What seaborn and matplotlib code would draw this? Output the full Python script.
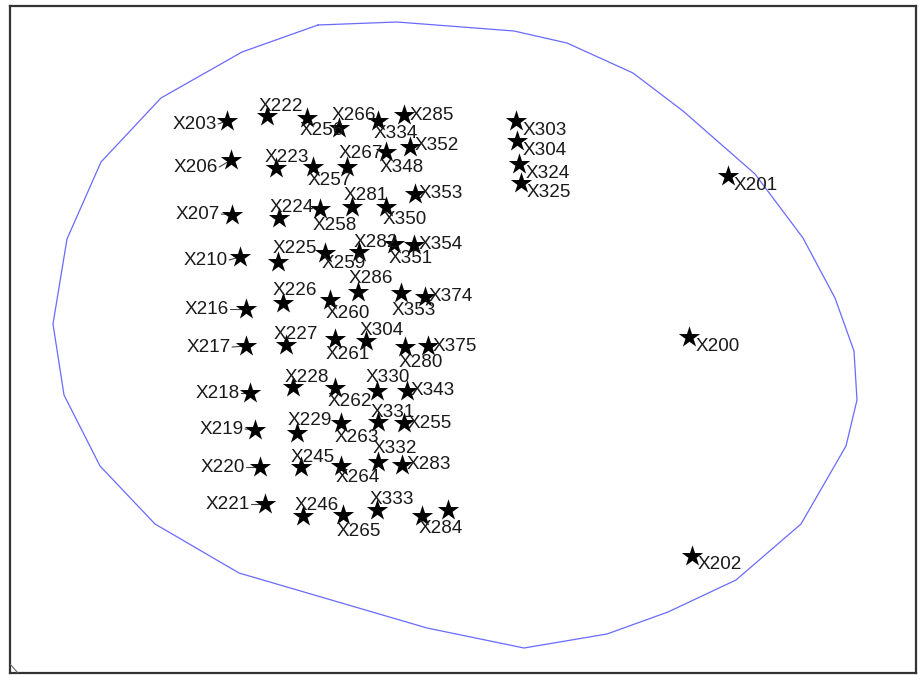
import matplotlib
matplotlib.use("Agg")
import matplotlib.pyplot as plt
import seaborn as sns
import pandas as pd

# ---- data (plot coordinates, y grows downward) ----
hull_x = [318, 397, 514, 567, 633, 683, 755, 803, 835, 854, 857, 846, 801, 736, 668, 607, 524, 427, 239, 155, 100, 64, 53, 67, 101, 161, 242]
hull_y = [25, 22, 31, 43, 73, 111, 174, 238, 298, 351, 400, 446, 524, 580, 612, 634, 648, 628, 573, 524, 466, 395, 324, 239, 162, 98, 52]

point_ids = ["X203", "X222", "X256", "X266", "X334", "X285",
             "X206", "X223", "X257", "X348", "X267", "X352",
             "X207", "X224", "X258", "X281", "X350", "X353a",
             "X210", "X225", "X259", "X282", "X351", "X354",
             "X216", "X226", "X260", "X286", "X353b", "X374",
             "X217", "X227", "X261", "X304a", "X280", "X375",
             "X218", "X228", "X262", "X330", "X343",
             "X219", "X229", "X263", "X331", "X255",
             "X220", "X245", "X264", "X332", "X283",
             "X221", "X246", "X265", "X333", "X284", "X284b",
             "X303", "X304", "X324", "X325",
             "X201", "X200", "X202"]
point_x = [227, 267, 307, 339, 378, 404,
           231, 276, 313, 347, 386, 410,
           232, 279, 320, 352, 386, 415,
           240, 278, 325, 359, 394, 414,
           246, 283, 330, 358, 401, 425,
           246, 286, 335, 366, 405, 428,
           250, 293, 335, 377, 407,
           255, 297, 341, 378, 404,
           260, 301, 341, 378, 402,
           265, 303, 343, 377, 422, 448,
           516, 517, 519, 521,
           728, 689, 692]
point_y = [121, 116, 118, 128, 121, 115,
           160, 168, 167, 167, 152, 147,
           215, 218, 209, 207, 207, 194,
           257, 262, 253, 252, 244, 245,
           309, 303, 300, 292, 293, 297,
           346, 345, 339, 341, 347, 346,
           393, 387, 388, 391, 391,
           430, 433, 423, 422, 423,
           467, 467, 466, 462, 465,
           504, 516, 515, 510, 516, 510,
           121, 141, 164, 183,
           176, 337, 556]

label_text = ["X203", "X222", "X256", "X266", "X334", "X285",
              "X206", "X223", "X257", "X267", "X348", "X352",
              "X207", "X224", "X258", "X281", "X350", "X353",
              "X210", "X225", "X259", "X282", "X351", "X354",
              "X216", "X226", "X260", "X286", "X353", "X374",
              "X217", "X227", "X261", "X304", "X280", "X375",
              "X218", "X228", "X262", "X330", "X343",
              "X219", "X229", "X263", "X331", "X255",
              "X220", "X245", "X264", "X332", "X283",
              "X221", "X246", "X265", "X333", "X284",
              "X303", "X304", "X324", "X325",
              "X201", "X200", "X202"]
label_x = [195, 281, 322, 354, 396, 432,
           196, 287, 330, 361, 402, 437,
           198, 292, 335, 366, 405, 441,
           206, 295, 344, 376, 411, 441,
           207, 295, 348, 371, 414, 451,
           209, 296, 348, 382, 421, 455,
           218, 307, 350, 388, 433,
           222, 310, 357, 393, 430,
           223, 313, 358, 395, 429,
           228, 317, 359, 392, 441,
           545, 545, 548, 549,
           756, 718, 720]
label_y = [124, 106, 130, 115, 133, 115,
           167, 157, 180, 153, 167, 145,
           214, 207, 225, 195, 219, 193,
           260, 248, 263, 242, 258, 244,
           309, 290, 313, 278, 310, 296,
           347, 334, 354, 330, 362, 346,
           393, 377, 401, 377, 390,
           429, 420, 437, 412, 423,
           467, 457, 477, 448, 464,
           504, 505, 531, 499, 528,
           130, 150, 173, 192,
           185, 346, 564]

# labels that show a leader segment to their point
linked_labels = ["X203", "X206", "X207", "X210", "X216", "X217", "X218", "X219", "X220", "X221"]

# ---- figure ----
sns.set_theme(style="white")
plt.rcParams["font.family"] = ["Liberation Sans", "DejaVu Sans"]

fig = plt.figure(figsize=(9.2, 6.75), dpi=100)
ax = fig.add_axes([10 / 920, 2 / 675, 906 / 920, 667 / 675])

ax.plot(hull_x + hull_x[:1], hull_y + hull_y[:1], color="#6a6aff", lw=0.9, zorder=1)

pts = pd.DataFrame({"id": point_ids, "x": point_x, "y": point_y})
sns.scatterplot(data=pts, x="x", y="y", marker="*", s=260, color="black",
                linewidth=0, ax=ax, zorder=4, legend=False)

texts = {}
for t, x, y in zip(label_text, label_x, label_y):
    h = ax.text(x, y + 0.5, t, ha="center", va="center", fontsize=13.6, color="#1a1a1a", zorder=5)
    texts.setdefault(t, h)

ax.set_xlim(10, 916)
ax.set_ylim(673, 6)
ax.set_xticks([])
ax.set_yticks([])
ax.set_xlabel("")
ax.set_ylabel("")
for sp in ax.spines.values():
    sp.set_color("#333333")
    sp.set_linewidth(1.6)

# leader segments from label edge to point
fig.canvas.draw()
inv = ax.transData.inverted()
for name in linked_labels:
    bb = texts[name].get_window_extent()
    (x0, _), (x1, _) = inv.transform([(bb.x0, bb.y0), (bb.x1, bb.y1)])
    i = point_ids.index(name)
    ly = label_y[label_text.index(name)]
    ax.plot([max(x0, x1) + 1, point_x[i]], [ly, point_y[i]], color="#444444", lw=0.8, zorder=3)

ax.plot([10, 18], [664, 673], color="#666666", lw=0.8, zorder=3, clip_on=True)

fig.savefig("out.png", dpi=100, facecolor="white")
